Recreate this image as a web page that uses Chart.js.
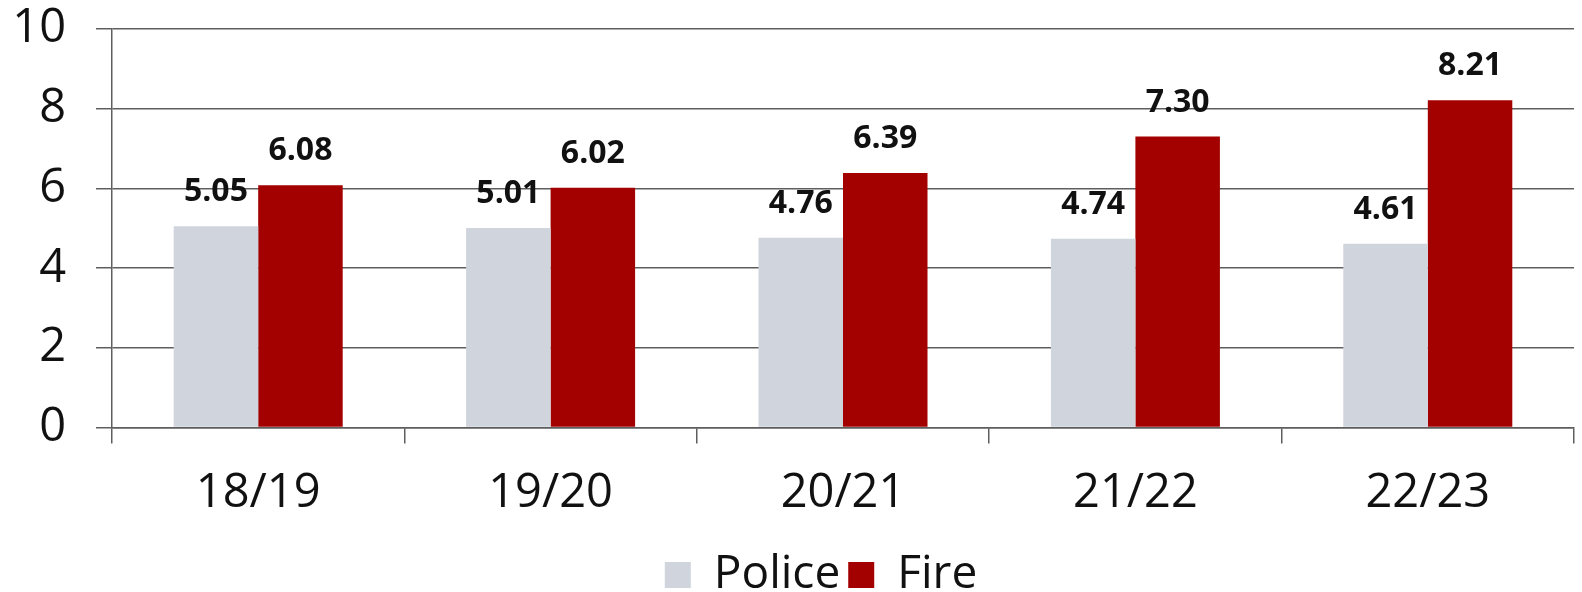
<!DOCTYPE html>
<html lang="en">
<head>
    <meta charset="UTF-8">
    <title>Police vs Fire</title>
    <style>
        html, body { margin: 0; padding: 0; background: #FFFFFF; }
        #chart-container { width: 1582px; height: 592px; }
    </style>
    <script src="https://cdn.jsdelivr.net/npm/chart.js"></script>
</head>
<body>
    <div id="chart-container">
        <canvas id="barChart"></canvas>
    </div>

    <script>
        // Years along the x axis
        const years = ["18/19", "19/20", "20/21", "21/22", "22/23"];

        // Values
        const policeValues = [5.05, 5.01, 4.76, 4.74, 4.61];
        const fireValues = [6.08, 6.02, 6.39, 7.30, 8.21];

        // Y axis ticks 0..10
        const yTicks = [0, 2, 4, 6, 8, 10];

        const FONT = "'Open Sans', 'DejaVu Sans', sans-serif";
        const GRID = "#5e5e5e";

        // Draws the bold value above each bar
        const valueLabels = {
            id: "valueLabels",
            afterDatasetsDraw(chart) {
                const ctx = chart.ctx;
                ctx.save();
                ctx.font = "bold 32px " + FONT;
                ctx.fillStyle = "#111111";
                ctx.textAlign = "center";
                ctx.textBaseline = "middle";
                chart.data.datasets.forEach((ds, i) => {
                    chart.getDatasetMeta(i).data.forEach((bar, j) => {
                        ctx.fillText(ds.data[j].toFixed(2), bar.x, bar.y - 34);
                    });
                });
                ctx.restore();
            }
        };

        // The reference legend sits a little right of centre
        const legendShift = {
            id: "legendShift",
            afterLayout(chart) {
                chart.legend.left += 34;
                chart.legend.right += 34;
            }
        };

        const ctx = document.getElementById("barChart").getContext("2d");

        new Chart(ctx, {
            type: "bar",
            data: {
                labels: years,
                datasets: [
                    {
                        label: "Police",
                        data: policeValues,
                        backgroundColor: "#d0d4dc",
                        categoryPercentage: 0.578,
                        barPercentage: 1.0
                    },
                    {
                        label: "Fire",
                        data: fireValues,
                        backgroundColor: "#a30000",
                        categoryPercentage: 0.578,
                        barPercentage: 1.0
                    }
                ]
            },
            options: {
                responsive: true,
                maintainAspectRatio: false,
                animation: false,
                layout: { padding: { top: 29, right: 8, left: 0, bottom: -16 } },
                scales: {
                    x: {
                        grid: {
                            offset: true,
                            drawOnChartArea: false,
                            drawTicks: true,
                            tickLength: 16,
                            color: GRID,
                            lineWidth: 1.5
                        },
                        border: { display: true, color: GRID, width: 1.5 },
                        ticks: {
                            color: "#111111",
                            padding: 22,
                            font: { family: FONT, size: 47 }
                        }
                    },
                    y: {
                        min: 0,
                        max: 10,
                        afterBuildTicks(scale) {
                            scale.ticks = yTicks.map(v => ({ value: v }));
                        },
                        afterFit(scale) {
                            // plot starts at x=112; let the top label sit above the plot
                            scale.width = 112;
                            scale.paddingTop = 0;
                            scale.paddingBottom = 0;
                        },
                        grid: {
                            color: GRID,
                            lineWidth: 1.5,
                            tickLength: 16
                        },
                        border: { display: true, color: GRID, width: 1.5 },
                        ticks: {
                            color: "#111111",
                            padding: 30,
                            font: { family: FONT, size: 47 }
                        }
                    }
                },
                plugins: {
                    legend: {
                        display: true,
                        position: "bottom",
                        labels: {
                            color: "#111111",
                            boxWidth: 26,
                            boxHeight: 26,
                            padding: 8,
                            font: { family: FONT, size: 46, lineHeight: 1.0 }
                        }
                    },
                    tooltip: { enabled: false }
                }
            },
            plugins: [valueLabels, legendShift]
        });
    </script>
</body>
</html>
